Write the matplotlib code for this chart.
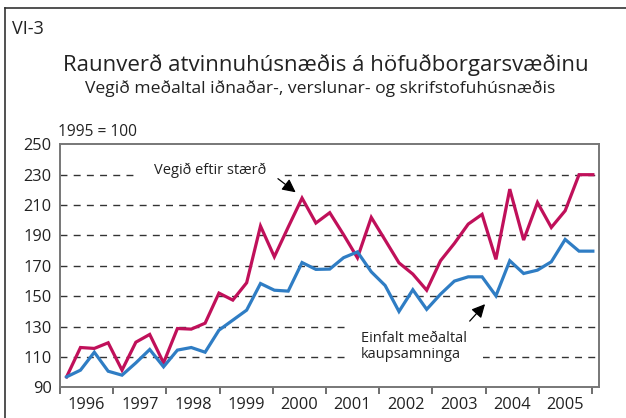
import numpy as np
import matplotlib.pyplot as plt
from matplotlib.lines import Line2D

plt.rcParams['font.family'] = ['Open Sans', 'DejaVu Sans']

# Raunverð, 1995 = 100, ársfjórðungar 1996-2005
years = ['1996', '1997', '1998', '1999', '2000', '2001', '2002', '2003', '2004', '2005']
vegid = [97.0, 116.3, 115.7, 119.4, 101.4, 119.8, 124.9, 106.2, 128.8, 128.4,
         132.3, 152.1, 147.5, 158.9, 196.2, 176.0, 195.5, 214.6, 198.2, 205.0,
         190.5, 175.3, 201.9, 187.0, 172.0, 164.6, 154.0, 173.4, 184.8, 197.5,
         203.9, 174.3, 220.5, 187.0, 211.7, 195.3, 206.3, 230.0, 230.0]
einfalt = [97.0, 101.4, 113.2, 100.7, 98.1, 106.2, 115.0, 103.6, 114.6, 116.3,
           113.2, 127.7, 134.3, 140.9, 158.4, 154.0, 153.4, 172.2, 167.7, 167.9,
           175.4, 179.2, 166.1, 157.1, 140.0, 154.3, 141.4, 151.4, 160.0, 162.8,
           162.8, 150.3, 173.4, 165.0, 167.2, 172.7, 187.4, 179.7, 179.7]
yticks = [90, 110, 130, 150, 170, 190, 210, 230, 250]

txt = '#222222'
red = '#C0105A'
blue = '#2F7DC4'

fig = plt.figure(figsize=(6.26, 4.18), dpi=100)
ax = fig.add_axes([0.0958, 0.073, 0.861, 0.5818])

x = np.arange(len(vegid))
ax.plot(x, vegid, color=red, lw=2.3, zorder=4, solid_joinstyle='miter')
ax.plot(x, einfalt, color=blue, lw=2.3, zorder=4, solid_joinstyle='miter')

ax.set_ylim(90, 250)
xmin, xmax = -0.48, 38.44
ax.set_xlim(xmin, xmax)

# brotnar hjálparlínur
for v in yticks[1:-1]:
    ax.axhline(v, color='#333333', lw=1.0, ls=(0, (5, 4.5)), zorder=1)

ax.set_yticks(yticks)
ax.set_yticklabels([str(v) for v in yticks], fontsize=11.8, color=txt)
ax.tick_params(axis='y', length=0, pad=6)

# ártalsmerki á mörkum ára, ártöl á milli
edges = np.linspace(xmin, 37.93, len(years) + 1)
ax.set_xticks(edges)
ax.set_xticklabels([])
ax.tick_params(axis='x', length=5, width=1.2, color='#555555', direction='out')
for i, yr in enumerate(years):
    ax.text((edges[i] + edges[i + 1]) / 2, 90 - 6.0, yr, ha='center', va='top',
            fontsize=11.8, color=txt, clip_on=False)

for s in ax.spines.values():
    s.set_color('#777777')
    s.set_linewidth(1.4)
    s.set_zorder(2.5)

# skýringar með örvum
arrow = dict(arrowstyle='-|>,head_length=0.8,head_width=0.4', color='black', lw=0.9)
ax.text(10.38, 232.6, 'Vegið eftir stærð', ha='center', va='center',
        fontsize=10.5, color=txt, zorder=2.2,
        bbox=dict(boxstyle='square,pad=1.2', fc='white', ec='none'))
ax.annotate('', xy=(16.7, 217.3), xytext=(15.1, 228.5), zorder=5, arrowprops=arrow)

ax.text(21.25, 116.9, 'Einfalt meðaltal\nkaupsamninga', ha='left', va='center',
        fontsize=10.5, color=txt, linespacing=1.15, zorder=2.2,
        bbox=dict(boxstyle='square,pad=1.1', fc='white', ec='none'))
ax.annotate('', xy=(30.35, 146.2), xytext=(28.97, 132.3), zorder=5, arrowprops=arrow)

# fyrirsagnir
fig.text(12 / 626, 1 - 29 / 418, 'VI-3', fontsize=13, color=txt, va='center')
fig.text(326 / 626, 1 - 65 / 418, 'Raunverð atvinnuhúsnæðis á höfuðborgarsvæðinu',
         fontsize=16, color=txt, ha='center', va='center')
fig.text(320 / 626, 1 - 89 / 418, 'Vegið meðaltal iðnaðar-, verslunar- og skrifstofuhúsnæðis',
         fontsize=12.6, color=txt, ha='center', va='center')
fig.text(58 / 626, 1 - 132 / 418, '1995 = 100', fontsize=11.2, color=txt, va='center')

# rammi
fig.add_artist(Line2D([5 / 626, 5 / 626], [0, 1 - 8 / 418], color='#333333', lw=1.2))
fig.add_artist(Line2D([5 / 626, 1], [1 - 8 / 418, 1 - 8 / 418], color='#333333', lw=1.2))

fig.savefig('out.png', dpi=100)
